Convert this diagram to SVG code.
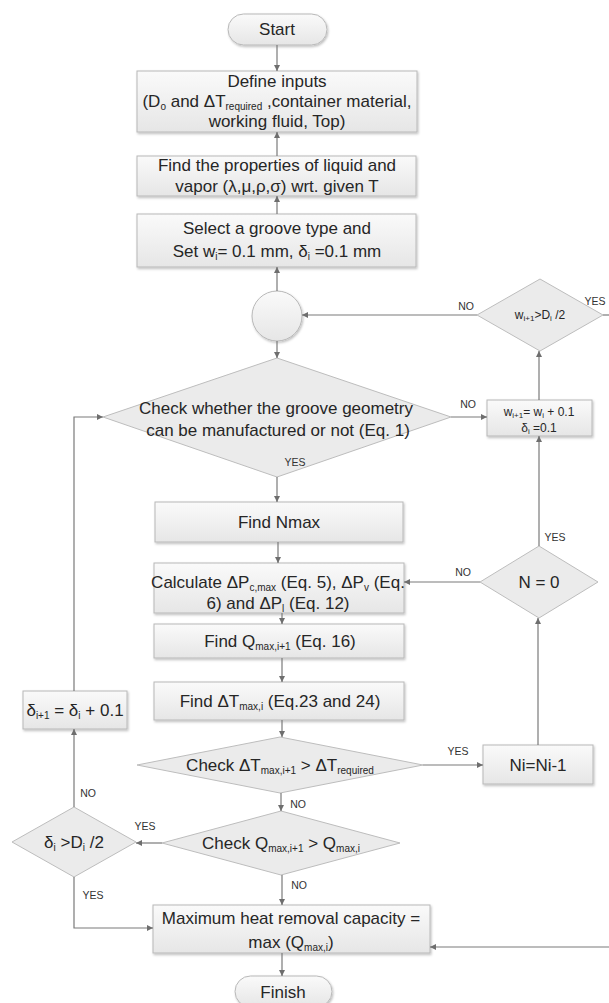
<svg xmlns="http://www.w3.org/2000/svg" width="609" height="1003" viewBox="0 0 609 1003">
<defs>
<linearGradient id="g" x1="0" y1="0" x2="0" y2="1">
<stop offset="0" stop-color="#fafafa"/>
<stop offset="1" stop-color="#e6e6e6"/>
</linearGradient>
<filter id="sh" x="-10%" y="-10%" width="120%" height="130%">
<feDropShadow dx="1" dy="1.5" stdDeviation="1" flood-color="#000" flood-opacity="0.25"/>
</filter>
<marker id="ar" viewBox="0 0 10 10" refX="10" refY="5" markerWidth="5" markerHeight="5" orient="auto-start-reverse">
<path d="M0,0 L10,5 L0,10 z" fill="#6e6e6e"/>
</marker>
</defs>
<style>
.box{fill:url(#g);stroke:#b8b8b8;stroke-width:1;filter:url(#sh)}
.dia{fill:#ebebeb;stroke:#bdbdbd;stroke-width:1}
.t{font-family:"Liberation Sans",Arial,sans-serif;font-size:17px;fill:#262626;text-anchor:middle}
.s{font-size:12px}
.lbl{font-family:"Liberation Sans",Arial,sans-serif;font-size:10.5px;fill:#333;text-anchor:middle}
.c{stroke:#7a7a7a;stroke-width:1.2;fill:none}
.a{marker-end:url(#ar)}
</style>
<rect width="609" height="1003" fill="#fff"/>

<g id="start">
<rect class="box" x="228" y="14" width="99" height="31" rx="15.5"/>
<text class="t" x="277" y="35">Start</text>
</g>

<g id="define-inputs">
<rect class="box" x="137" y="71" width="280" height="61"/>
<text class="t" x="277" y="87">Define inputs</text>
<text class="t" x="277" y="107">(D<tspan font-size="10" dy="3">o</tspan><tspan dy="-3"> and ΔT</tspan><tspan font-size="10" dy="3">required</tspan><tspan dy="-3"> ,container material,</tspan></text>
<text class="t" x="277" y="127">working fluid, Top)</text>
</g>

<g id="find-properties">
<rect class="box" x="137" y="156" width="279" height="40"/>
<text class="t" x="277" y="171">Find the properties of liquid and</text>
<text class="t" x="277" y="192">vapor (λ,μ,ρ,σ)  wrt. given T</text>
</g>

<g id="select-groove">
<rect class="box" x="137" y="214" width="279" height="53"/>
<text class="t" x="277" y="234">Select a groove type and</text>
<text class="t" x="277" y="257">Set w<tspan font-size="10" dy="3">i</tspan><tspan dy="-3">= 0.1 mm, δ</tspan><tspan font-size="10" dy="3">i</tspan><tspan dy="-3"> =0.1 mm</tspan></text>
</g>

<g id="junction">
<circle class="box" cx="277" cy="316" r="25"/>
</g>

<g id="check-geometry">
<polygon class="dia" points="277,358 451,417 277,477 103,417"/>
<text class="t" x="276" y="414">Check whether the groove geometry</text>
<text class="t" x="278" y="436">can be manufactured or not (Eq. 1)</text>
</g>

<g id="check-w">
<polygon class="dia" points="540,279 603,315 540,351 477,315"/>
<text class="t s" x="540" y="319">w<tspan font-size="8" dy="2">i+1</tspan><tspan dy="-2">&gt;D</tspan><tspan font-size="8" dy="2">i</tspan><tspan dy="-2"> /2</tspan></text>
</g>

<g id="update-w">
<rect class="box" x="487" y="400" width="105" height="36"/>
<text class="t s" x="539" y="416">w<tspan font-size="8" dy="2">i+1</tspan><tspan dy="-2">= w</tspan><tspan font-size="8" dy="2">i</tspan><tspan dy="-2"> + 0.1</tspan></text>
<text class="t s" x="539" y="432">δ<tspan font-size="8" dy="2">i</tspan><tspan dy="-2"> =0.1</tspan></text>
</g>

<g id="find-nmax">
<rect class="box" x="155" y="502" width="248" height="40"/>
<text class="t" x="279" y="528">Find Nmax</text>
</g>

<g id="calculate">
<rect class="box" x="154" y="563" width="250" height="50"/>
<text class="t" x="278" y="588" font-size="15.5">Calculate ΔP<tspan font-size="10" dy="3">c,max</tspan><tspan dy="-3">  (Eq. 5), ΔP</tspan><tspan font-size="10" dy="3">v</tspan><tspan dy="-3"> (Eq.</tspan></text>
<text class="t" x="278" y="609">6) and ΔP<tspan font-size="10" dy="3">l</tspan><tspan dy="-3"> (Eq. 12)</tspan></text>
</g>

<g id="find-qmax">
<rect class="box" x="154" y="624" width="250" height="34"/>
<text class="t" x="280" y="647">Find Q<tspan font-size="10" dy="3">max,i+1</tspan><tspan dy="-3"> (Eq. 16)</tspan></text>
</g>

<g id="find-dtmax">
<rect class="box" x="154" y="682" width="250" height="38"/>
<text class="t" x="280" y="707">Find ΔT<tspan font-size="10" dy="3">max,i</tspan><tspan dy="-3"> (Eq.23 and 24)</tspan></text>
</g>

<g id="check-dt">
<polygon class="dia" points="280,737 423,765 280,793 137,765"/>
<text class="t" x="280" y="771">Check ΔT<tspan font-size="10" dy="3">max,i+1</tspan><tspan dy="-3"> &gt; ΔT</tspan><tspan font-size="10" dy="3">required</tspan></text>
</g>

<g id="decrement-n">
<rect class="box" x="483" y="745" width="110" height="39"/>
<text class="t" x="538" y="771">Ni=Ni-1</text>
</g>

<g id="check-n">
<polygon class="dia" points="539,546 598,582 539,618 480,582"/>
<text class="t" x="539" y="588">N = 0</text>
</g>

<g id="update-delta">
<rect class="box" x="23" y="691" width="104" height="38"/>
<text class="t" x="75" y="716">δ<tspan font-size="10" dy="3">i+1</tspan><tspan dy="-3"> = δ</tspan><tspan font-size="10" dy="3">i</tspan><tspan dy="-3"> + 0.1</tspan></text>
</g>

<g id="check-delta">
<polygon class="dia" points="74,807 136,842 74,877 12,842"/>
<text class="t" x="74" y="848">δ<tspan font-size="10" dy="3">i</tspan><tspan dy="-3"> &gt;D</tspan><tspan font-size="10" dy="3">i</tspan><tspan dy="-3"> /2</tspan></text>
</g>

<g id="check-q">
<polygon class="dia" points="281,811 400,843 281,875 162,843"/>
<text class="t" x="281" y="849">Check Q<tspan font-size="10" dy="3">max,i+1</tspan><tspan dy="-3"> &gt; Q</tspan><tspan font-size="10" dy="3">max,i</tspan></text>
</g>

<g id="max-capacity">
<rect class="box" x="153" y="905" width="277" height="48"/>
<text class="t" x="291" y="924">Maximum heat removal capacity =</text>
<text class="t" x="291" y="948">max (Q<tspan font-size="10" dy="3">max,i</tspan><tspan dy="-3">)</tspan></text>
</g>

<g id="finish">
<rect class="box" x="235" y="976" width="97" height="31" rx="15.5"/>
<text class="t" x="283" y="998">Finish</text>
</g>

<g id="connectors">
<path class="c a" d="M277,45 V71"/>
<path class="c a" d="M277,156 V132"/>
<path class="c a" d="M277,214 V196"/>
<path class="c a" d="M277,291 V267"/>
<path class="c a" d="M477,315 H302"/>
<path class="c" d="M603,315 H609"/>
<path class="c a" d="M277,341 V358"/>
<path class="c a" d="M451,417 H487"/>
<path class="c a" d="M539,400 V351"/>
<path class="c a" d="M277,477 V502"/>
<path class="c a" d="M278,542 V563"/>
<path class="c a" d="M282,613 V624"/>
<path class="c a" d="M282,658 V682"/>
<path class="c a" d="M282,720 V737"/>
<path class="c a" d="M423,765 H483"/>
<path class="c a" d="M538,745 V618"/>
<path class="c a" d="M539,546 V436"/>
<path class="c a" d="M480,582 H404"/>
<path class="c a" d="M281,793 V811"/>
<path class="c a" d="M162,843 H136"/>
<path class="c a" d="M282,875 V905"/>
<path class="c a" d="M74,807 V729"/>
<path class="c a" d="M74,691 V417 H103"/>
<path class="c a" d="M74,877 V928 H153"/>
<path class="c a" d="M609,947 H430"/>
<path class="c a" d="M282,953 V976"/>
<text class="lbl" x="466" y="310">NO</text>
<text class="lbl" x="595" y="305">YES</text>
<text class="lbl" x="468" y="408">NO</text>
<text class="lbl" x="295" y="466">YES</text>
<text class="lbl" x="555" y="541">YES</text>
<text class="lbl" x="463" y="576">NO</text>
<text class="lbl" x="458" y="755">YES</text>
<text class="lbl" x="298" y="808">NO</text>
<text class="lbl" x="145" y="830">YES</text>
<text class="lbl" x="299" y="889">NO</text>
<text class="lbl" x="88" y="797">NO</text>
<text class="lbl" x="93" y="899">YES</text>
</g>
</svg>
